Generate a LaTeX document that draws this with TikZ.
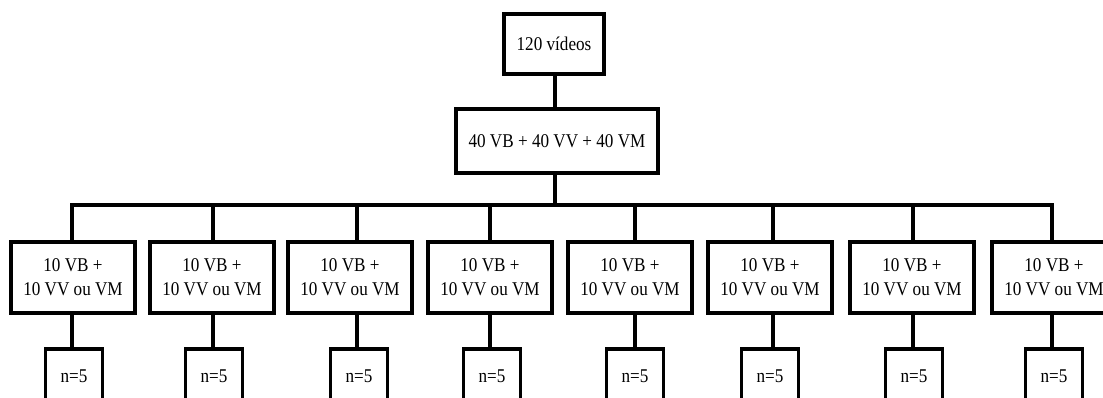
\documentclass[tikz,border=0pt]{standalone}
\usepackage{fontspec}
\setmainfont[FakeStretch=0.88]{Liberation Serif}
\begin{document}
\begin{tikzpicture}[x=0.75pt,y=-0.75pt,
  box/.style={draw=black,line width=2.3pt,fill=white,inner sep=0pt,align=center,
    font=\fontsize{14.6}{18}\selectfont},
  link/.style={draw=black,line width=2.3pt}]
\useasboundingbox (0,0) rectangle (1103,398);
\clip (0,0) rectangle (1103,398);
% top of the tree
\node[box,minimum width=100*0.75pt,minimum height=60*0.75pt] (total) at (554,44) {120 vídeos};
\node[box,minimum width=202*0.75pt,minimum height=64*0.75pt] (split) at (557,141) {40 VB + 40 VV + 40 VM};
\coordinate (hub) at (555,205);
\draw[link] (total.south -| hub) -- (split.north -| hub);
\draw[link] (split.south -| hub) -- (hub);
% the eight groups: box centre / branch line / subgroup centre
\foreach \i/\bx/\lx/\sx in {1/73/72/74,2/212/213/214,3/350/357/359,4/490/490/492,
                            5/630/635/635,6/770/773/770,7/912/913/914,8/1054/1052/1054}{
  \coordinate (bus\i) at (\lx,205);
  \node[box,minimum width=124*0.75pt,minimum height=71*0.75pt] (grp\i) at (\bx,277.5)
    {10 VB +\\10 VV ou VM};
  \node[box,minimum width=57*0.75pt,minimum height=54*0.75pt] (sub\i) at (\sx,376) {n=5};
  \draw[link] (bus\i) -- (bus\i |- grp\i.north);
  \draw[link] (bus\i |- grp\i.south) -- (bus\i |- sub\i.north);
}
\draw[link,line cap=rect] (bus1) -- (bus8);
\end{tikzpicture}
\end{document}
